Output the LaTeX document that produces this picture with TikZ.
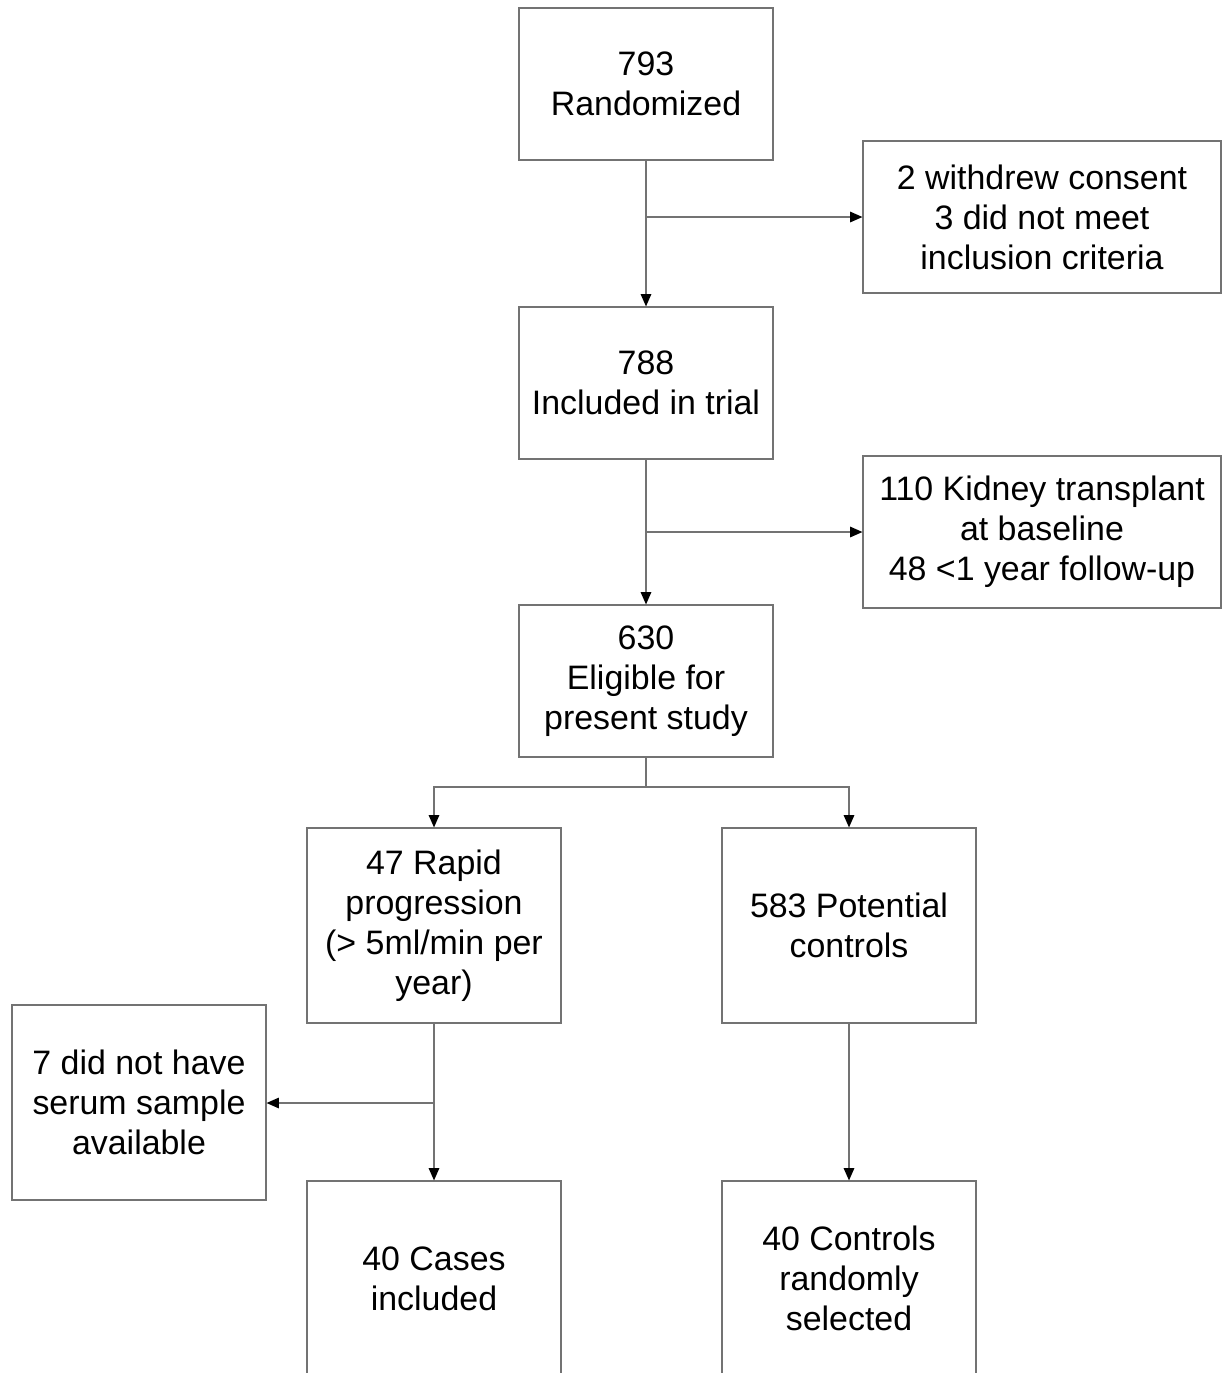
\documentclass[tikz,border=0pt]{standalone}
\usepackage{fontspec}
\setmainfont{Liberation Sans}
\usetikzlibrary{arrows.meta}
\tikzset{
  box/.style={draw=black!55, line width=0.7pt, align=center, inner sep=0pt,
    minimum width=5.08cm, minimum height=3.04cm,
    font=\fontsize{19.3}{22.7}\selectfont},
  widebox/.style={box, minimum width=7.16cm},
  tallbox/.style={box, minimum height=3.9cm},
  link/.style={draw=black!55, line width=0.7pt}
}
\begin{document}
\begin{tikzpicture}[x=0.02cm, y=-0.02cm,
  >={Triangle[length=7pt,width=6pt,color=black]}]
        \useasboundingbox (0,0) rectangle (1225,1373);
        \clip (0,0) rectangle (1225,1373);
        % boxes
        \node[box] (rand) at (646,84) {793\\Randomized};
        \node[widebox] (excla) at (1042,217) {2 withdrew consent\\3 did not meet\\inclusion criteria};
        \node[box] (incl) at (646,383) {788\\Included in trial};
        \node[widebox] (exclb) at (1042,532) {110 Kidney transplant\\at baseline\\48 <1 year follow-up};
        \node[box] (elig) at (646,681) {630\\Eligible for\\present study};
        \node[tallbox] (rapid) at (434,925.5) {47 Rapid\\progression\\(> 5ml/min per\\year)};
        \node[tallbox] (pot) at (849,925.5) {583 Potential\\controls};
        \node[tallbox] (serum) at (139,1102.5) {7 did not have\\serum sample\\available};
        \node[tallbox] (cases) at (434,1278.5) {40 Cases\\included};
        \node[tallbox] (ctrl) at (849,1278.5) {40 Controls\\randomly\\selected};
        % branch points
        \coordinate (ja) at (646,217);
        \coordinate (jb) at (646,532);
        \coordinate (jc) at (646,787);
        \coordinate (jd) at (434,1103);
        % connectors
        \draw[link,->] (rand) -- (incl);
        \draw[link,->] (ja) -- (ja -| excla.west);
        \draw[link,->] (incl) -- (elig);
        \draw[link,->] (jb) -- (jb -| exclb.west);
        \draw[link] (elig) -- (jc);
        \draw[link,->] (jc) -| (rapid);
        \draw[link,->] (jc) -| (pot);
        \draw[link,->] (rapid) -- (cases);
        \draw[link,->] (jd) -- (jd -| serum.east);
        \draw[link,->] (pot) -- (ctrl);
\end{tikzpicture}
\end{document}
